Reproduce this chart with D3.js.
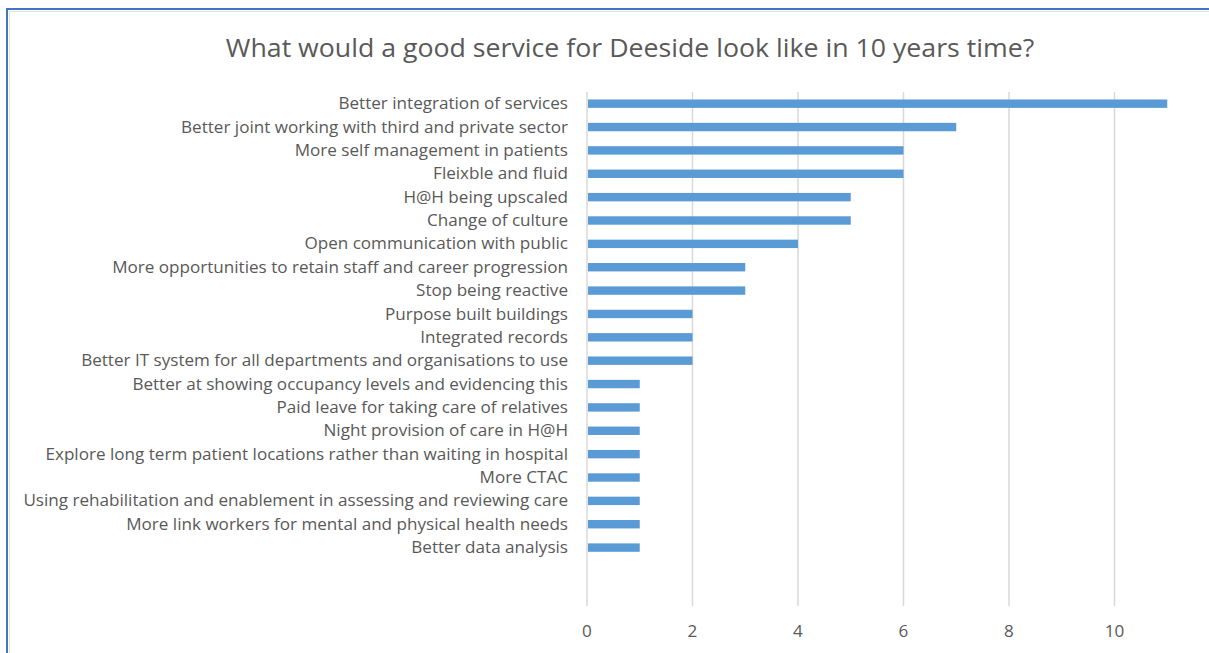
<!DOCTYPE html>
<html>
<head>
<meta charset="utf-8">
<script src="https://cdn.jsdelivr.net/npm/d3@7"></script>
<style>
  html, body { margin: 0; padding: 0; background: #fff; }
  svg { display: block; }
  text { font-family: "Open Sans", Lato, sans-serif; fill: #595959; }
</style>
</head>
<body>
<svg id="chart" width="1209" height="653"></svg>
<script>
// Responses, top to bottom
const categories = [
  "Better integration of services",
  "Better joint working with third and private sector",
  "More self management in patients",
  "Fleixble and fluid",
  "H@H being upscaled",
  "Change of culture",
  "Open communication with public",
  "More opportunities to retain staff and career progression",
  "Stop being reactive",
  "Purpose built buildings",
  "Integrated records",
  "Better IT system for all departments and organisations to use",
  "Better at showing occupancy levels and evidencing this",
  "Paid leave for taking care of relatives",
  "Night provision of care in H@H",
  "Explore long term patient locations rather than waiting in hospital",
  "More CTAC",
  "Using rehabilitation and enablement in assessing and reviewing care",
  "More link workers for mental and physical health needs",
  "Better data analysis"
];
const counts = [11, 7, 6, 6, 5, 5, 4, 3, 3, 2, 2, 2, 1, 1, 1, 1, 1, 1, 1, 1];
const xTicks = [0, 2, 4, 6, 8, 10];
const emptySlots = 2; // blank rows at the foot of the category axis

const title = "What would a good service for Deeside look like in 10 years time?";

const stretch = 1.068; // text is set slightly wide

const svg = d3.select("#chart");

// Outer frame
svg.append("rect")
  .attr("x", 7).attr("y", 9).attr("width", 1300).attr("height", 700)
  .attr("fill", "none").attr("stroke", "#4472c4").attr("stroke-width", 2);
svg.append("rect")
  .attr("x", 9.5).attr("y", 11.5).attr("width", 1300).attr("height", 700)
  .attr("fill", "none").attr("stroke", "#e3e3e3").attr("stroke-width", 1);

const plot = { left: 587, right: 1167, top: 92, bottom: 606 };

const x = d3.scaleLinear().domain([0, 11]).range([plot.left, plot.left + 11 * 52.75]);
const y = d3.scaleBand()
  .domain(d3.range(categories.length + emptySlots))
  .range([plot.top, plot.bottom])
  .paddingInner(0.64).paddingOuter(0.32);

// Title
svg.append("text")
  .attr("transform", `translate(630,57) scale(${stretch},1)`)
  .attr("text-anchor", "middle")
  .style("font-size", "25px")
  .text(title);

// Vertical gridlines
svg.append("g")
  .selectAll("line")
  .data(xTicks)
  .join("line")
  .attr("x1", d => x(d)).attr("x2", d => x(d))
  .attr("y1", plot.top).attr("y2", plot.bottom)
  .attr("stroke", "#d9d9d9").attr("stroke-width", 1.5);

// Bars
svg.append("g")
  .selectAll("rect")
  .data(counts)
  .join("rect")
  .attr("x", x(0) + 1)
  .attr("y", (d, i) => y(i))
  .attr("width", d => x(d) - x(0) - 1)
  .attr("height", y.bandwidth())
  .attr("fill", "#5b9bd5");

// Category labels
svg.append("g")
  .selectAll("text")
  .data(categories)
  .join("text")
  .attr("transform", (d, i) => `translate(568,${y(i) + y.bandwidth() / 2}) scale(${stretch},1)`)
  .attr("dy", "0.35em")
  .attr("text-anchor", "end")
  .style("font-size", "16px")
  .text(d => d);

// Value axis labels
svg.append("g")
  .selectAll("text")
  .data(xTicks)
  .join("text")
  .attr("transform", d => `translate(${x(d)},637) scale(${stretch},1)`)
  .attr("text-anchor", "middle")
  .style("font-size", "16px")
  .text(d => d);
</script>
</body>
</html>
